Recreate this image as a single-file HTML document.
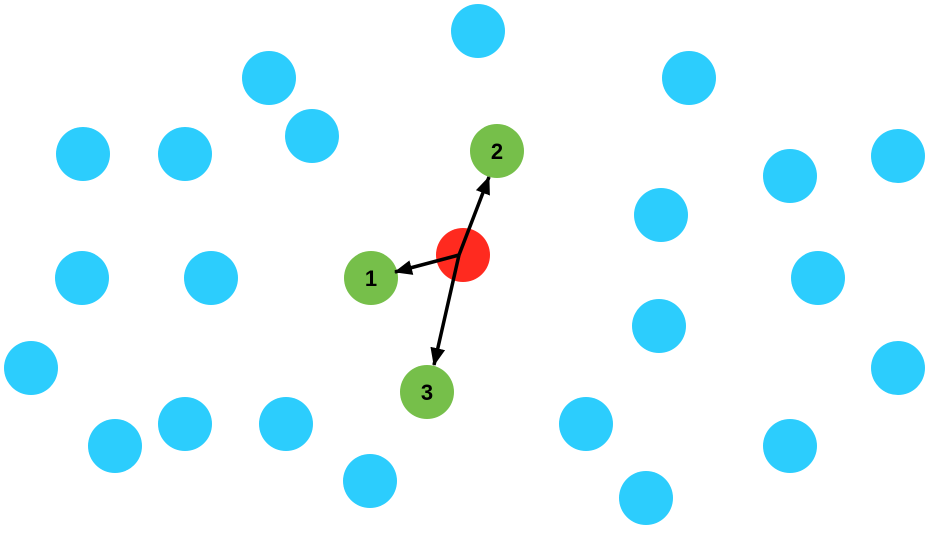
<!DOCTYPE html>
<html><head><style>html,body{margin:0;padding:0;background:#fff}</style></head>
<body>
<svg width="930" height="530" xmlns="http://www.w3.org/2000/svg">
<defs>
<marker id="b" markerWidth="18" markerHeight="15" refX="17" refY="7.5" orient="auto" markerUnits="userSpaceOnUse"><path d="M0,0 L18,7.5 L0,15 Z" fill="#000"/></marker></defs>
<g fill="#2ccdfd">
<circle cx="478" cy="31" r="27"/><circle cx="269" cy="78" r="27"/><circle cx="689" cy="78" r="27"/>
<circle cx="312" cy="136" r="27"/><circle cx="83" cy="154" r="27"/><circle cx="185" cy="154" r="27"/>
<circle cx="898" cy="156" r="27"/><circle cx="790" cy="176" r="27"/><circle cx="661" cy="215" r="27"/>
<circle cx="82" cy="278" r="27"/><circle cx="211" cy="278" r="27"/><circle cx="818" cy="278" r="27"/>
<circle cx="659" cy="326" r="27"/><circle cx="31" cy="368" r="27"/><circle cx="898" cy="368" r="27"/>
<circle cx="185" cy="424" r="27"/><circle cx="286" cy="424" r="27"/><circle cx="115" cy="446" r="27"/>
<circle cx="586" cy="424" r="27"/><circle cx="790" cy="446" r="27"/><circle cx="370" cy="481" r="27"/>
<circle cx="646" cy="498" r="27"/>
</g>
<circle cx="463" cy="255" r="27" fill="#ff2a1f"/>
<g fill="#76bf4a">
<circle cx="371" cy="278" r="27"/><circle cx="497" cy="151" r="27"/><circle cx="427" cy="392" r="27"/>
</g>
<g stroke="#000" stroke-width="3.5" fill="none">
<line x1="459" y1="255" x2="395" y2="272" marker-end="url(#b)"/>
<line x1="459" y1="255" x2="489" y2="177" marker-end="url(#b)"/>
<line x1="459" y1="255" x2="434" y2="365" marker-end="url(#b)"/>
</g>
<g font-family="Liberation Sans, sans-serif" font-weight="bold" font-size="22" text-anchor="middle" fill="#000">
<text x="371" y="286">1</text><text x="497" y="159">2</text><text x="427" y="400">3</text>
</g>
</svg>
</body></html>
